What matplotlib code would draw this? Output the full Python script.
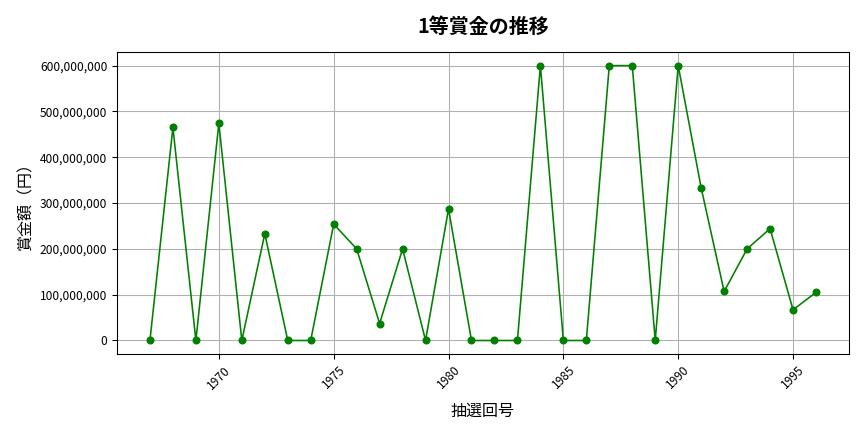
import matplotlib
matplotlib.use('Agg')
from matplotlib import pyplot as plt
from matplotlib.ticker import FuncFormatter

plt.rcParams['font.family'] = ['Noto Sans CJK JP', 'DejaVu Sans']

years = list(range(1967, 1997))
prize = [0, 465e6, 0, 474e6, 0, 233e6, 0, 0, 254e6, 200e6,
         37e6, 200e6, 0, 287e6, 0, 0, 0, 600e6, 0, 0,
         600e6, 600e6, 0, 600e6, 333e6, 107e6, 200e6, 244e6, 67e6, 105e6]

fig, ax = plt.subplots(figsize=(9, 4.5), dpi=96)
ax.plot(years, prize, color='green', marker='o', markersize=5, linewidth=1.2)
ax.grid(True, color='#b0b0b0', linewidth=0.8)
ax.set_title('1等賞金の推移', fontsize=15, fontweight='bold', pad=14)
ax.set_xlabel('抽選回号', fontsize=12, labelpad=8)
ax.set_ylabel('賞金額（円）', fontsize=12)
ax.yaxis.set_major_formatter(FuncFormatter(lambda v, p: f'{int(v):,}'))
ax.set_xticks([1970, 1975, 1980, 1985, 1990, 1995])
plt.setp(ax.get_xticklabels(), rotation=45)
ax.tick_params(labelsize=9)
fig.subplots_adjust(left=0.135, right=0.983, top=0.88, bottom=0.18)
fig.savefig('out.png')
plt.close(fig)
